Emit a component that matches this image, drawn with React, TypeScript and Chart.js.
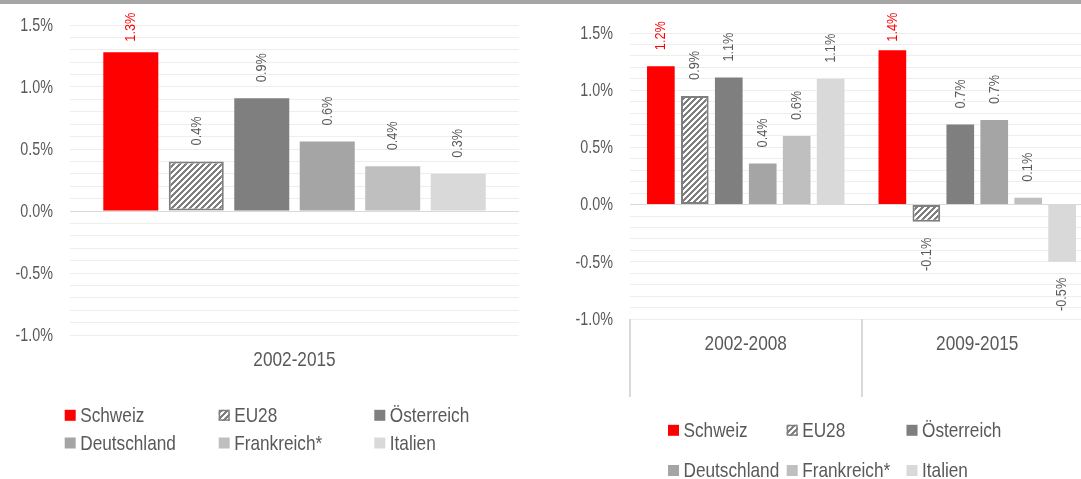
import React, { useEffect, useRef } from 'react';
import { Chart, registerables } from 'chart.js';

Chart.register(...registerables);

// ---------------- data ----------------
const seriesLabels = ['Schweiz', 'EU28', 'Österreich', 'Deutschland', 'Frankreich*', 'Italien'];
const leftCategories = ['2002-2015'];
const rightCategories = ['2002-2008', '2009-2015'];
// values per series (same order as seriesLabels), in percent
const values2002to2015 = [1.28, 0.4, 0.91, 0.56, 0.36, 0.3];
const values2002to2008 = [1.21, 0.95, 1.11, 0.36, 0.6, 1.1];
const values2009to2015 = [1.35, -0.15, 0.7, 0.74, 0.06, -0.5];
const yMin = -1.0;
const yMax = 1.5;
const yGridStep = 0.1;
const yLabelStep = 0.5;

// ---------------- styles ----------------
const seriesColors = ['#ff0000', 'hatch', '#7f7f7f', '#a5a5a5', '#bfbfbf', '#d9d9d9'];
const valueLabelColors = ['#ff0000', '#595959', '#595959', '#595959', '#595959', '#595959'];
const TEXT = '#595959';
const FAMILY = "'Liberation Sans', Arial, sans-serif";
const NARROW = 0.82; // horizontal squeeze to imitate a narrow typeface
const FONT = { tick: 17.5, cat: 21, legend: 21, label: 15.5 };

function fmtPct(v: number) {
  const r = Math.abs(v) < 1e-9 ? 0 : v;
  return r.toFixed(1) + '%';
}

function fillNarrow(
  ctx: CanvasRenderingContext2D,
  text: string,
  x: number,
  y: number,
  align: CanvasTextAlign,
  rotate = 0
) {
  ctx.save();
  ctx.translate(x, y);
  if (rotate) ctx.rotate(rotate);
  ctx.scale(NARROW, 1);
  ctx.textAlign = align;
  ctx.textBaseline = 'middle';
  ctx.fillText(text, 0, 0);
  ctx.restore();
}

function makeHatch(ctx: CanvasRenderingContext2D) {
  const c = document.createElement('canvas');
  c.width = 6;
  c.height = 6;
  const g = c.getContext('2d')!;
  g.fillStyle = '#ffffff';
  g.fillRect(0, 0, 6, 6);
  g.fillStyle = '#7f7f7f';
  for (let y = 0; y < 6; y++) {
    for (let x = 0; x < 6; x++) {
      if ((x + y) % 6 < 3) g.fillRect(x, y, 1, 1);
    }
  }
  return ctx.createPattern(c, 'repeat');
}

// axis labels drawn with a narrow squeeze (values come from the scales)
const axisText = {
  id: 'axisText',
  afterDraw(chart: any) {
    const ctx = chart.ctx as CanvasRenderingContext2D;
    const ys = chart.scales.y;
    const xs = chart.scales.x;
    const area = chart.chartArea;
    ctx.save();
    ctx.fillStyle = TEXT;
    ctx.font = `${FONT.tick}px ${FAMILY}`;
    ys.ticks.forEach((t: any) => {
      const v = t.value as number;
      if (Math.abs(v / yLabelStep - Math.round(v / yLabelStep)) > 1e-6) return;
      fillNarrow(ctx, fmtPct(v), area.left - 17, ys.getPixelForValue(v) + 1, 'right');
    });
    ctx.font = `${FONT.cat}px ${FAMILY}`;
    chart.data.labels.forEach((lab: string, i: number) => {
      fillNarrow(ctx, lab, xs.getPixelForTick(i), area.bottom + 25, 'center');
    });
    ctx.restore();
  },
};

const valueLabels = {
  id: 'valueLabels',
  afterDatasetsDraw(chart: any, _args: any, opts: any) {
    const ctx = chart.ctx as CanvasRenderingContext2D;
    chart.data.datasets.forEach((ds: any, di: number) => {
      const meta = chart.getDatasetMeta(di);
      meta.data.forEach((el: any, i: number) => {
        const v = ds.data[i] as number;
        const text = fmtPct(v);
        ctx.save();
        ctx.font = `${FONT.label}px ${FAMILY}`;
        ctx.fillStyle = valueLabelColors[di];
        const w = ctx.measureText(text).width * NARROW;
        if (v >= 0) {
          let y = el.y - opts.gap;
          if (y - w < opts.minTop) y = opts.minTop + w;
          fillNarrow(ctx, text, el.x, y, 'left', -Math.PI / 2);
        } else {
          fillNarrow(ctx, text, el.x, el.y + opts.gap, 'right', -Math.PI / 2);
        }
        ctx.restore();
      });
    });
  },
};

const gridLegend = {
  id: 'gridLegend',
  afterDraw(chart: any, _args: any, opts: any) {
    const ctx = chart.ctx as CanvasRenderingContext2D;
    chart.data.datasets.forEach((ds: any, i: number) => {
      const x = opts.colX[i % 3];
      const y = opts.rowY[Math.floor(i / 3)];
      const s = opts.box;
      ctx.save();
      ctx.fillStyle = ds.backgroundColor;
      ctx.fillRect(x, y - s / 2, s, s);
      if (ds.borderWidth) {
        ctx.strokeStyle = ds.borderColor;
        ctx.lineWidth = 1.5;
        ctx.strokeRect(x + 0.75, y - s / 2 + 0.75, s - 1.5, s - 1.5);
      }
      ctx.font = `${FONT.legend}px ${FAMILY}`;
      ctx.fillStyle = TEXT;
      fillNarrow(ctx, ds.label, x + s + opts.gap, y + 1, 'left');
      ctx.restore();
    });
  },
};

const catDividers = {
  id: 'catDividers',
  afterDraw(chart: any, _args: any, opts: any) {
    if (!opts.length) return;
    const xs = chart.scales.x;
    const n = chart.data.labels.length;
    const ctx = chart.ctx as CanvasRenderingContext2D;
    const top = chart.chartArea.bottom;
    ctx.save();
    ctx.strokeStyle = '#d9d9d9';
    ctx.lineWidth = 2;
    for (let i = 0; i <= n; i++) {
      const px = Math.round(xs.left + (xs.width * i) / n);
      ctx.beginPath();
      ctx.moveTo(px, top);
      ctx.lineTo(px, top + opts.length);
      ctx.stroke();
    }
    ctx.restore();
  },
};

interface PanelCfg {
  categories: string[];
  columns: number[][];
  canvasWidth: number;
  viewWidth: number;
  left: number;
  yWidth: number;
  padRight: number;
  padTop: number;
  padBottom: number;
  xHeight: number;
  catPct: number;
  barPct: number;
  legendCols: number[];
  legendRows: number[];
  dividerLen: number;
}

function Panel({ cfg }: { cfg: PanelCfg }) {
  const ref = useRef<HTMLCanvasElement>(null);
  useEffect(() => {
    const canvas = ref.current!;
    const ctx = canvas.getContext('2d')!;
    const hatch = makeHatch(ctx);
    const datasets = seriesLabels.map((label, i) => ({
      label,
      data: cfg.columns.map((col) => col[i]),
      backgroundColor: i === 1 ? hatch : seriesColors[i],
      borderColor: i === 1 ? '#7f7f7f' : 'rgba(0,0,0,0)',
      borderWidth: i === 1 ? 2 : 0,
      borderSkipped: false,
      categoryPercentage: cfg.catPct,
      barPercentage: cfg.barPct,
    }));
    const chart = new Chart(canvas, {
      type: 'bar',
      data: { labels: cfg.categories, datasets: datasets as any },
      options: {
        responsive: false,
        maintainAspectRatio: false,
        animation: false,
        layout: { padding: { left: 0, right: cfg.padRight, top: cfg.padTop, bottom: cfg.padBottom } },
        plugins: {
          legend: { display: false },
          tooltip: { enabled: false },
          valueLabels: { gap: 16, minTop: 12.7 },
          gridLegend: { colX: cfg.legendCols, rowY: cfg.legendRows, box: 11, gap: 4.5 },
          catDividers: { length: cfg.dividerLen },
        } as any,
        scales: {
          x: {
            type: 'category',
            grid: { display: false, drawTicks: false },
            border: { display: false },
            ticks: { display: false },
            afterFit: (s: any) => {
              s.height = cfg.xHeight;
            },
          },
          y: {
            type: 'linear',
            min: yMin,
            max: yMax,
            grid: {
              drawTicks: false,
              color: (c: any) => (Math.abs(c.tick?.value ?? 1) < 1e-9 ? '#d9d9d9' : '#eeeeee'),
              lineWidth: 1,
            },
            border: { display: false },
            ticks: { stepSize: yGridStep, autoSkip: false, display: false },
            afterFit: (s: any) => {
              s.width = cfg.yWidth;
            },
          },
        },
      } as any,
      plugins: [valueLabels, axisText, gridLegend, catDividers],
    });
    return () => chart.destroy();
  }, [cfg]);
  return (
    <div
      style={{
        position: 'absolute',
        left: cfg.left,
        top: 0,
        width: cfg.viewWidth,
        height: 479,
        overflow: 'hidden',
      }}
    >
      <canvas
        ref={ref}
        width={cfg.canvasWidth}
        height={479}
        style={{ display: 'block', width: cfg.canvasWidth, height: 479 }}
      />
    </div>
  );
}

const leftCfg: PanelCfg = {
  categories: leftCategories,
  columns: [values2002to2015],
  canvasWidth: 540,
  viewWidth: 540,
  left: 0,
  yWidth: 70,
  padRight: 21,
  padTop: 25,
  padBottom: 94,
  xHeight: 50,
  catPct: 0.875,
  barPct: 0.84,
  legendCols: [64.7, 218.7, 374.3],
  legendRows: [415.3, 443],
  dividerLen: 0,
};

const rightCfg: PanelCfg = {
  categories: rightCategories,
  columns: [values2002to2008, values2009to2015],
  canvasWidth: 570,
  viewWidth: 541,
  left: 540,
  yWidth: 90,
  padRight: 17,
  padTop: 33,
  padBottom: 80,
  xHeight: 80,
  catPct: 0.88,
  barPct: 0.815,
  legendCols: [128, 246.7, 366.5],
  legendRows: [430.3, 470.5],
  dividerLen: 78,
};

export default function App() {
  return (
    <div
      style={{
        position: 'fixed',
        left: 0,
        top: 0,
        width: 1081,
        height: 479,
        background: '#ffffff',
        overflow: 'hidden',
      }}
    >
      <Panel cfg={leftCfg} />
      <Panel cfg={rightCfg} />
      <div style={{ position: 'absolute', left: 0, top: 0, width: 1081, height: 4, background: '#a6a6a6' }} />
    </div>
  );
}
